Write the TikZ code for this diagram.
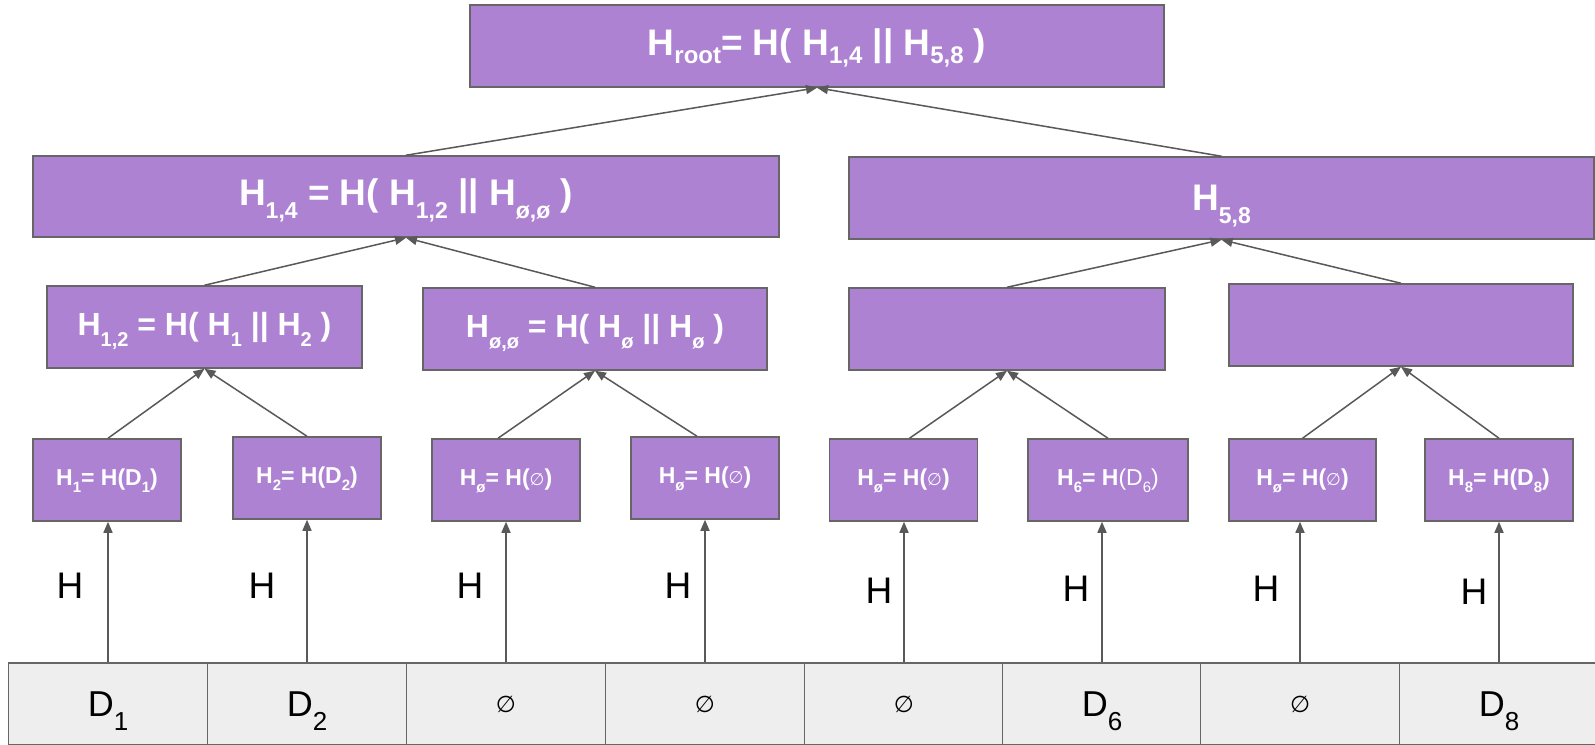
\documentclass[tikz,border=0pt]{standalone}
\usepackage{fontspec}
\setmainfont{Liberation Sans}
\newfontfamily\symfont{DejaVu Sans}
\usetikzlibrary{arrows.meta}

\definecolor{boxpurple}{HTML}{AE82D3}
\definecolor{edgegray}{HTML}{666666}
\definecolor{arrowgray}{HTML}{595959}
\definecolor{cellfill}{HTML}{EEEEEE}

% lowered subscripts for the different text sizes
\newcommand\rsub[1]{\raisebox{-8pt}[0pt][0pt]{\fontsize{24pt}{24pt}\selectfont #1}}
\newcommand\msub[1]{\raisebox{-13pt}[0pt][0pt]{\fontsize{23pt}{23pt}\selectfont #1}}
\newcommand\ssub[1]{\raisebox{-11pt}[0pt][0pt]{\fontsize{20pt}{20pt}\selectfont #1}}
\newcommand\lsub[1]{\raisebox{-7pt}[0pt][0pt]{\fontsize{15pt}{15pt}\selectfont #1}}
\newcommand\dsub[1]{\raisebox{-14pt}[0pt][0pt]{\fontsize{26pt}{26pt}\selectfont #1}}
\newcommand\emptyleaf{{\symfont\mdseries\fontsize{17pt}{17pt}\selectfont ∅}}
\newcommand\emptycell{{\symfont\fontsize{23pt}{23pt}\selectfont ∅}}

\tikzset{
  hbox/.style={draw=edgegray, fill=boxpurple, line width=1.5pt, inner sep=0pt,
    text=white, font=\bfseries, minimum height=82pt},
  bigtext/.style={font=\bfseries\fontsize{37pt}{37pt}\selectfont},
  midtext/.style={font=\bfseries\fontsize{32pt}{32pt}\selectfont},
  leaftext/.style={font=\bfseries\fontsize{23pt}{23pt}\selectfont},
  leaf/.style={hbox, leaftext, minimum width=148pt},
  cell/.style={draw=edgegray, fill=cellfill, line width=1.5pt, inner sep=0pt,
    minimum width=199pt, minimum height=82pt, text=black,
    font=\fontsize{36pt}{36pt}\selectfont},
  conn/.style={draw=arrowgray, line width=1.5pt, -{Triangle[length=11pt,width=9pt]}},
  hlabel/.style={inner sep=0pt, font=\fontsize{37pt}{37pt}\selectfont}
}

\begin{document}
\begin{tikzpicture}[x=1pt, y=-1pt]
\useasboundingbox[fill=white] (0,0) rectangle (1595,744);

% data blocks
\node[cell] (c1) at (108,704) {D\dsub{1}};
\node[cell] (c2) at (307,704) {D\dsub{2}};
\node[cell] (c3) at (506,704) {\emptycell};
\node[cell] (c4) at (705,704) {\emptycell};
\node[cell] (c5) at (904,704) {\emptycell};
\node[cell] (c6) at (1102,704) {D\dsub{6}};
\node[cell] (c7) at (1300,704) {\emptycell};
\node[cell] (c8) at (1499,704) {D\dsub{8}};

% leaf hashes
\node[leaf] (l1) at (107,480) {H\lsub{1}= H(D\lsub{1})};
\node[leaf] (l2) at (307,478) {H\lsub{2}= H(D\lsub{2})};
\node[leaf] (l3) at (506,480) {H\lsub{ø}= H(\emptyleaf)};
\node[leaf] (l4) at (705,478) {H\lsub{ø}= H(\emptyleaf)};
\node[leaf] (l5) at (903.5,480) {H\lsub{ø}= H(\emptyleaf)};
\node[leaf, minimum width=160pt] (l6) at (1108,480) {H\lsub{6}= H{\mdseries(D\lsub{6})}};
\node[leaf, minimum width=147pt] (l7) at (1302.5,480) {H\lsub{ø}= H(\emptyleaf)};
\node[leaf] (l8) at (1499,480) {H\lsub{8}= H(D\lsub{8})};

% second level
\node[hbox, midtext, minimum width=315pt] (h12) at (204.5,327) {H\ssub{1,2} = H( H\ssub{1} || H\ssub{2} )};
\node[hbox, midtext, minimum width=344pt] (hee) at (595,329) {H\ssub{ø,ø} = H( H\ssub{ø} || H\ssub{ø} )};
\node[hbox, minimum width=316pt] (b1) at (1007,329) {};
\node[hbox, minimum width=344pt] (b2) at (1401,325) {};

% third level
\node[hbox, bigtext, minimum width=746pt, minimum height=81pt] (h14) at (406,196.5) {H\msub{1,4} = H( H\msub{1,2} || H\msub{ø,ø} )};
\node[hbox, bigtext, minimum width=745pt] (h58) at (1221.5,198) {H\msub{5,8}};

% root
\node[hbox, font=\bfseries\fontsize{37pt}{37pt}\selectfont, minimum width=694pt] (root) at (817,46) {H\rsub{root}= H( H\rsub{1,4} || H\rsub{5,8} )};

% hashing of the data blocks
\foreach \i in {1,...,8} {
  \draw[conn] (c\i.north) -- (c\i.north |- l\i.south);
}
\node[hlabel] (t1) at (70,585.5) {H};
\node[hlabel] (t2) at (262,585.5) {H};
\node[hlabel] (t3) at (470,585.5) {H};
\node[hlabel] (t4) at (678,585.5) {H};
\node[hlabel] (t5) at (879,591) {H};
\node[hlabel] (t6) at (1076,589) {H};
\node[hlabel] (t7) at (1266,589) {H};
\node[hlabel] (t8) at (1474,592) {H};

% tree links
\draw[conn] ([xshift=1pt]l1.north) -- (h12.south);
\draw[conn] (l2.north) -- (h12.south);
\draw[conn] ([xshift=-8pt]l3.north) -- (hee.south);
\draw[conn] ([xshift=-8pt]l4.north) -- (hee.south);
\draw[conn] ([xshift=6pt]l5.north) -- (b1.south);
\draw[conn] (l6.north) -- (b1.south);
\draw[conn] (l7.north) -- (b2.south);
\draw[conn] (l8.north) -- (b2.south);

\draw[conn] (h12.north) -- (h14.south);
\draw[conn] (hee.north) -- (h14.south);
\draw[conn] (b1.north) -- (h58.south);
\draw[conn] (b2.north) -- (h58.south);

\draw[conn] (h14.north) -- (root.south);
\draw[conn] (h58.north) -- (root.south);
\end{tikzpicture}
\end{document}
